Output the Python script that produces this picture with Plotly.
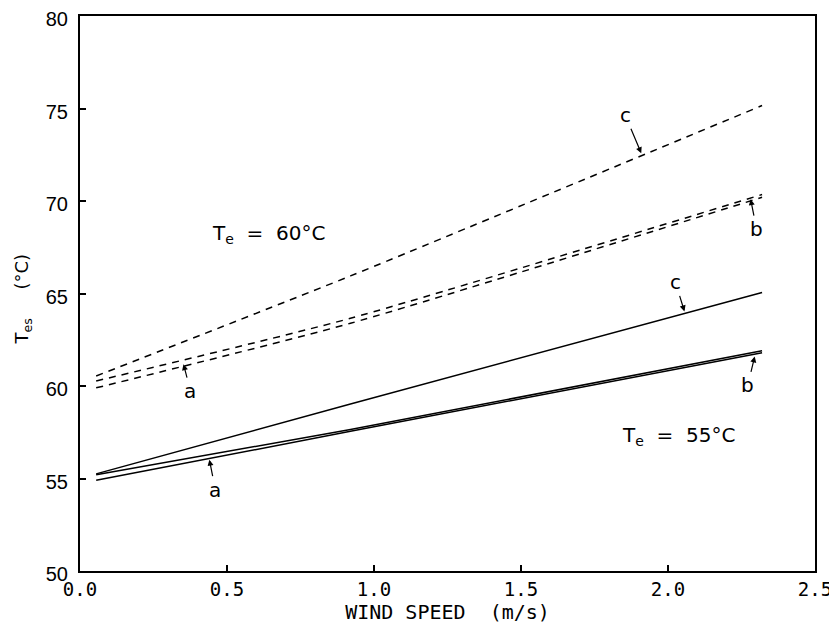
import plotly.graph_objects as go

# Wind speed (m/s) sample positions
wind = [0.055, 0.92, 2.32]

# Te = 55 °C (solid lines)
solid_a = [54.90, 57.55, 61.80]
solid_b = [55.20, 57.65, 61.90]
solid_c = [55.25, 59.03, 65.05]

# Te = 60 °C (dashed lines)
dash_a = [59.90, 63.39, 70.20]
dash_b = [60.27, 63.66, 70.35]
dash_c = [60.54, 65.95, 75.16]

x_ticks = [0.0, 0.5, 1.0, 1.5, 2.0, 2.5]
x_tick_text = ["0.0", "0.5", "1.0", "1.5", "2.0", "2.5"]
y_ticks = [50, 55, 60, 65, 70, 75, 80]

fig = go.Figure()

for ys in (solid_a, solid_b, solid_c):
    fig.add_trace(go.Scatter(x=wind, y=ys, mode="lines",
                             line=dict(color="black", width=1.5, shape="spline", smoothing=0.6),
                             showlegend=False, hoverinfo="skip"))
for ys in (dash_a, dash_b, dash_c):
    fig.add_trace(go.Scatter(x=wind, y=ys, mode="lines",
                             line=dict(color="black", width=1.5, dash="7px,6px", shape="spline", smoothing=0.6),
                             showlegend=False, hoverinfo="skip"))

font_main = "DejaVu Sans"
lab_font = dict(family=font_main, size=20, color="black")

annotations = [
    # curve labels with arrows: (tip x, tip y, text, ax, ay)
    (1.909, 72.58, "c", -16, -38),
    (2.281, 70.10, "b", 6, 30),
    (0.352, 61.18, "a", 7, 27),
    (2.056, 64.03, "c", -9, -29),
    (2.295, 61.60, "b", -7, 29),
    (0.440, 56.02, "a", 6, 30),
]
for x, y, t, ax, ay in annotations:
    fig.add_annotation(x=x, y=y, text=t, showarrow=True, ax=ax, ay=ay,
                       arrowhead=2, arrowsize=1.0, arrowwidth=1.2, arrowcolor="black",
                       standoff=0, font=lab_font)

fig.add_annotation(x=0.642, y=68.2, text="T<sub>e</sub>  =  60°C", showarrow=False,
                   font=dict(family=font_main, size=20, color="black"))
fig.add_annotation(x=2.035, y=57.3, text="T<sub>e</sub>  =  55°C", showarrow=False,
                   font=dict(family=font_main, size=20, color="black"))

fig.add_annotation(x=-0.058, xref="paper", y=64.7, yref="y", text="T<sub>es</sub>     (°C)",
                   textangle=-90, showarrow=False, xanchor="right",
                   font=dict(family=font_main, size=18, color="black"))

fig.update_xaxes(range=[0, 2.5], tickvals=x_ticks, ticktext=x_tick_text,
                 ticks="inside", ticklen=6, tickcolor="black", tickwidth=1.5,
                 showline=True, linecolor="black", linewidth=2, mirror=True,
                 showgrid=False, zeroline=False, automargin=False,
                 ticklabeloverflow="allow",
                 tickfont=dict(family="DejaVu Sans Mono", size=19, color="black"),
                 title=dict(text="WIND SPEED  (m/s)", standoff=6,
                            font=dict(family="DejaVu Sans Mono", size=20, color="black")))
fig.update_yaxes(range=[50, 80], tickvals=y_ticks,
                 ticks="inside", ticklen=6, tickcolor="black", tickwidth=1.5,
                 showline=True, linecolor="black", linewidth=2, mirror=True,
                 showgrid=False, zeroline=False, automargin=False,
                 ticklabelstandoff=6, ticklabeloverflow="allow", ticklabelshift=3,
                 tickfont=dict(family="Liberation Sans", size=20, color="black"))

fig.update_layout(width=837, height=641, plot_bgcolor="white", paper_bgcolor="white",
                  margin=dict(l=72, r=30, t=8, b=78), showlegend=False)

fig.write_html("out.html")
